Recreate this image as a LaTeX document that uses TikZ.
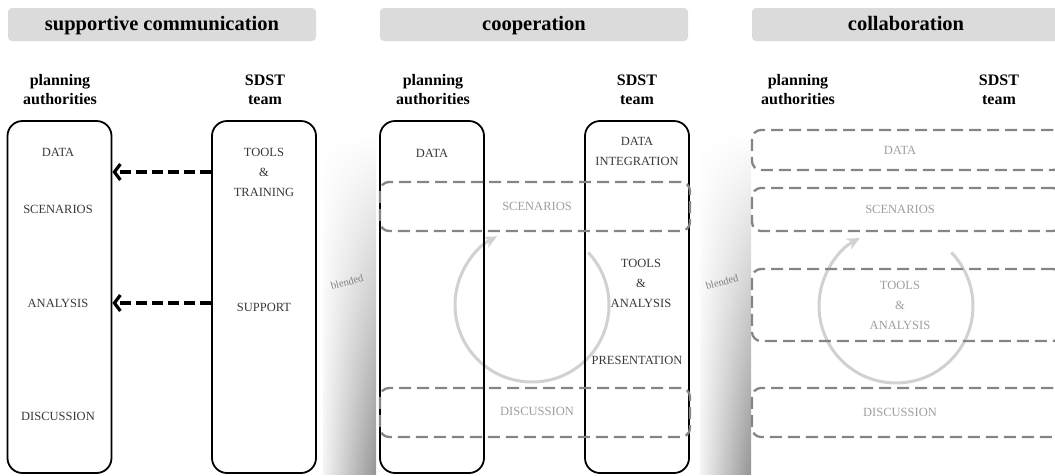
\documentclass[tikz,border=0pt]{standalone}
\usepackage{fontspec}
\setmainfont{Liberation Serif}
\usetikzlibrary{arrows.meta,fadings}

\begin{document}
\begin{tikzpicture}[x=1pt, y=-1pt,
  hd/.style={fill=black!14, rounded corners=4pt, minimum width=308pt, minimum height=33pt, inner sep=0pt, text height=15pt, text depth=3pt, font=\fontsize{20.5}{24}\selectfont\bfseries},
  who/.style={align=center, inner sep=0pt, font=\fontsize{16}{19}\selectfont\bfseries},
  lane/.style={draw, line width=1.8pt, rounded corners=15pt, minimum width=104pt, minimum height=352pt, inner sep=0pt},
  zone/.style={draw=black!48, line width=2.3pt, dash pattern=on 12pt off 6pt, rounded corners=9pt, minimum width=310pt, inner sep=0pt},
  lb/.style={align=center, inner sep=0pt, text=black!78, font=\fontsize{12.5}{20}\selectfont},
  lbg/.style={lb, text=black!38},
  push/.style={line width=3.2pt, dash pattern=on 11pt off 5pt, -{Straight Barb[length=6pt, width=16pt]}},
  cyc/.style={draw=black!18, line width=3pt, -{Stealth[length=13pt, width=12pt]}},
  mix/.style={font=\fontsize{10.5}{12}\selectfont, text=black!50, rotate=15, inner sep=0pt},
  strip/.style={left color=black!4, right color=black!42, path fading=north}]
  \useasboundingbox (0,0) rectangle (1055,475);
  % blended strips
  \shade[strip] (323,135) rectangle (376,475);
  \shade[strip] (700,135) rectangle (751,475);
  \node[mix] (bl1) at (347,282) {blended};
  \node[mix] (bl2) at (722,282) {blended};
  % headers
  \foreach \t [count=\i] in {supportive communication, cooperation, collaboration}
    \node[hd] (hd\i) at (-210+372*\i, 24.5) {\t};
  \foreach \x/\y [count=\i] in {60/265, 433/637, 798/999} {
    \node[who] (ph\i) at (\x,90) {planning\\authorities};
    \node[who] (sh\i) at (\y,90) {SDST\\team};
  }
  % supportive communication
  \node[lane] (pl1) at (59.5,297) {};
  \node[lane] (sl1) at (264,297) {};
  \foreach \v/\y [count=\i] in {DATA/152, SCENARIOS/209, ANALYSIS/303, DISCUSSION/416}
    \node[lb] (p1\i) at (58,\y) {\v};
  \node[lb] (tr1) at (264,172) {TOOLS\\\&\\TRAINING};
  \node[lb] (su1) at (264,307) {SUPPORT};
  \draw[push] (tr1 -| sl1.west) -- (tr1 -| pl1.east);
  \draw[push] (p13 -| sl1.west) -- (p13 -| pl1.east);
  % cooperation
  \coordinate (o2) at (532,305);
  \draw[cyc] (o2) ++(-43:77) arc[start angle=-43, end angle=243, radius=77];
  \node[lane] (pl2) at (432,297) {};
  \node[lane] (sl2) at (637,297) {};
  \node[zone, minimum height=49pt] (zs2) at (535,206.5) {};
  \node[zone, minimum height=49pt] (zd2) at (535,412.5) {};
  \node[lbg] (sc2) at (537,206) {SCENARIOS};
  \node[lbg] (di2) at (537,411) {DISCUSSION};
  \node[lb] (da2) at (432,153) {DATA};
  \node[lb] (in2) at (637,151) {DATA\\INTEGRATION};
  \node[lb] (ta2) at (641,283) {TOOLS\\\&\\ANALYSIS};
  \node[lb] (pr2) at (637,360) {PRESENTATION};
  % collaboration
  \coordinate (o3) at (896,306);
  \draw[cyc] (o3) ++(-44:77) arc[start angle=-44, end angle=242, radius=77];
  \foreach \y/\h/\v [count=\i] in {150/40/DATA, 209.5/43/SCENARIOS, 305/72/{TOOLS\\\&\\ANALYSIS}, 412.5/49/DISCUSSION} {
    \node[zone, minimum height=\h pt] (z3\i) at (907,\y) {};
    \node[lbg] (t3\i) at (900,\y) {\v};
  }
\end{tikzpicture}
\end{document}
